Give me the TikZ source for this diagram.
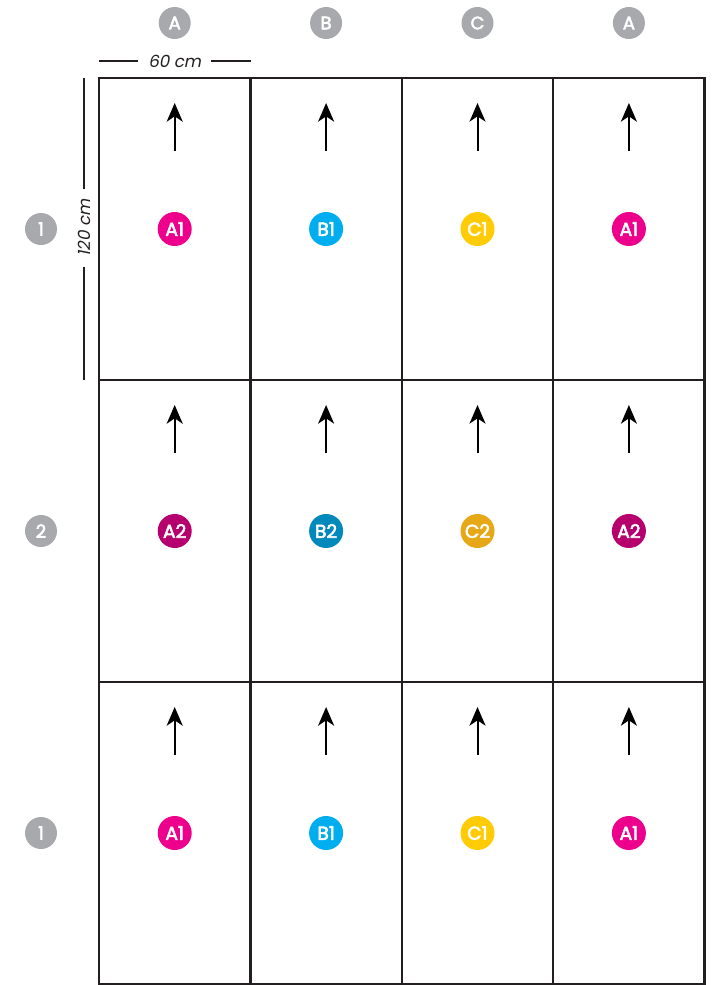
\documentclass[tikz,border=0pt]{standalone}
\usepackage{fontspec}
\setmainfont{Poppins}
\newfontfamily\dimfont[FakeSlant=0.2]{Poppins}
\newfontfamily\dotfont[FakeBold=3]{Poppins}
\usetikzlibrary{arrows.meta, positioning}
\definecolor{mGrid}{HTML}{231F20}
\definecolor{mGray}{HTML}{A7A9AC}
\definecolor{dotA1}{HTML}{EC008C}
\definecolor{dotB1}{HTML}{00AEEF}
\definecolor{dotC1}{HTML}{FFCB05}
\definecolor{dotA2}{HTML}{B5006E}
\definecolor{dotB2}{HTML}{0089BA}
\definecolor{dotC2}{HTML}{E6A817}
\tikzset{
  panel/.style={draw=mGrid, line width=1.8pt, minimum width=113.55pt,
                minimum height=226.5pt, inner sep=0pt, outer sep=0pt},
  hhead/.style={circle, fill=mGray, minimum size=24pt, inner sep=0pt,
                text=white, font=\dotfont\fontsize{13.5}{13.5}\selectfont},
  pdot/.style={circle, minimum size=25.5pt, inner sep=0pt,
               text=white, font=\dotfont\fontsize{14}{14}\selectfont},
  uparrow/.style={line width=1.5pt, -{Stealth[length=14pt, width=12pt, inset=4pt]}},
  dimline/.style={mGrid, line width=0.9pt},
  dimtext/.style={text=mGrid, font=\dimfont\fontsize{12.5}{12.5}\selectfont},
}
\begin{document}
\begin{tikzpicture}[x=0.75pt, y=-0.75pt]
  \useasboundingbox (0,0) rectangle (721,985);
  % column headers
  \foreach \c [count=\i] in {A,B,C,A}
    \node[hhead] (col\i) at ({174.7+151.4*(\i-1)},23) {\c};
  % row headers
  \foreach \n [count=\j] in {1,2,1}
    \node[hhead] (row\j) at (41,{229+302*(\j-1)}) {\n};
  % panels, arrows and dots
  \foreach \n [count=\j] in {1,2,1} {
    \foreach \c [count=\i] in {A,B,C,A} {
      \node[panel] (cell\j\i) at ({174.7+151.4*(\i-1)},{229+302*(\j-1)}) {};
      \coordinate (tip\j\i) at ({174.7+151.4*(\i-1)},{103+302*(\j-1)});
      \coordinate (tail\j\i) at ({174.7+151.4*(\i-1)},{151+302*(\j-1)});
      \draw[uparrow] (tail\j\i) -- (tip\j\i);
      \node[pdot, fill=dot\c\n] (dot\j\i) at ({174.7+151.4*(\i-1)},{229+302*(\j-1)}) {\c\n};
    }
  }
  % width of one panel
  \node[dimtext] (wtxt) at (174.7,61) {60 cm};
  \coordinate (wl) at (99,61);
  \coordinate (wr) at (250.5,61);
  \draw[dimline] (wl) -- (138,61);
  \draw[dimline] (211,61) -- (wr);
  % height of one panel
  \node[dimtext, rotate=90] (htxt) at (84,228) {120 cm};
  \coordinate (ht) at (84,78);
  \coordinate (hb) at (84,380);
  \draw[dimline] (ht) -- (84,189);
  \draw[dimline] (84,267) -- (hb);
\end{tikzpicture}
\end{document}
